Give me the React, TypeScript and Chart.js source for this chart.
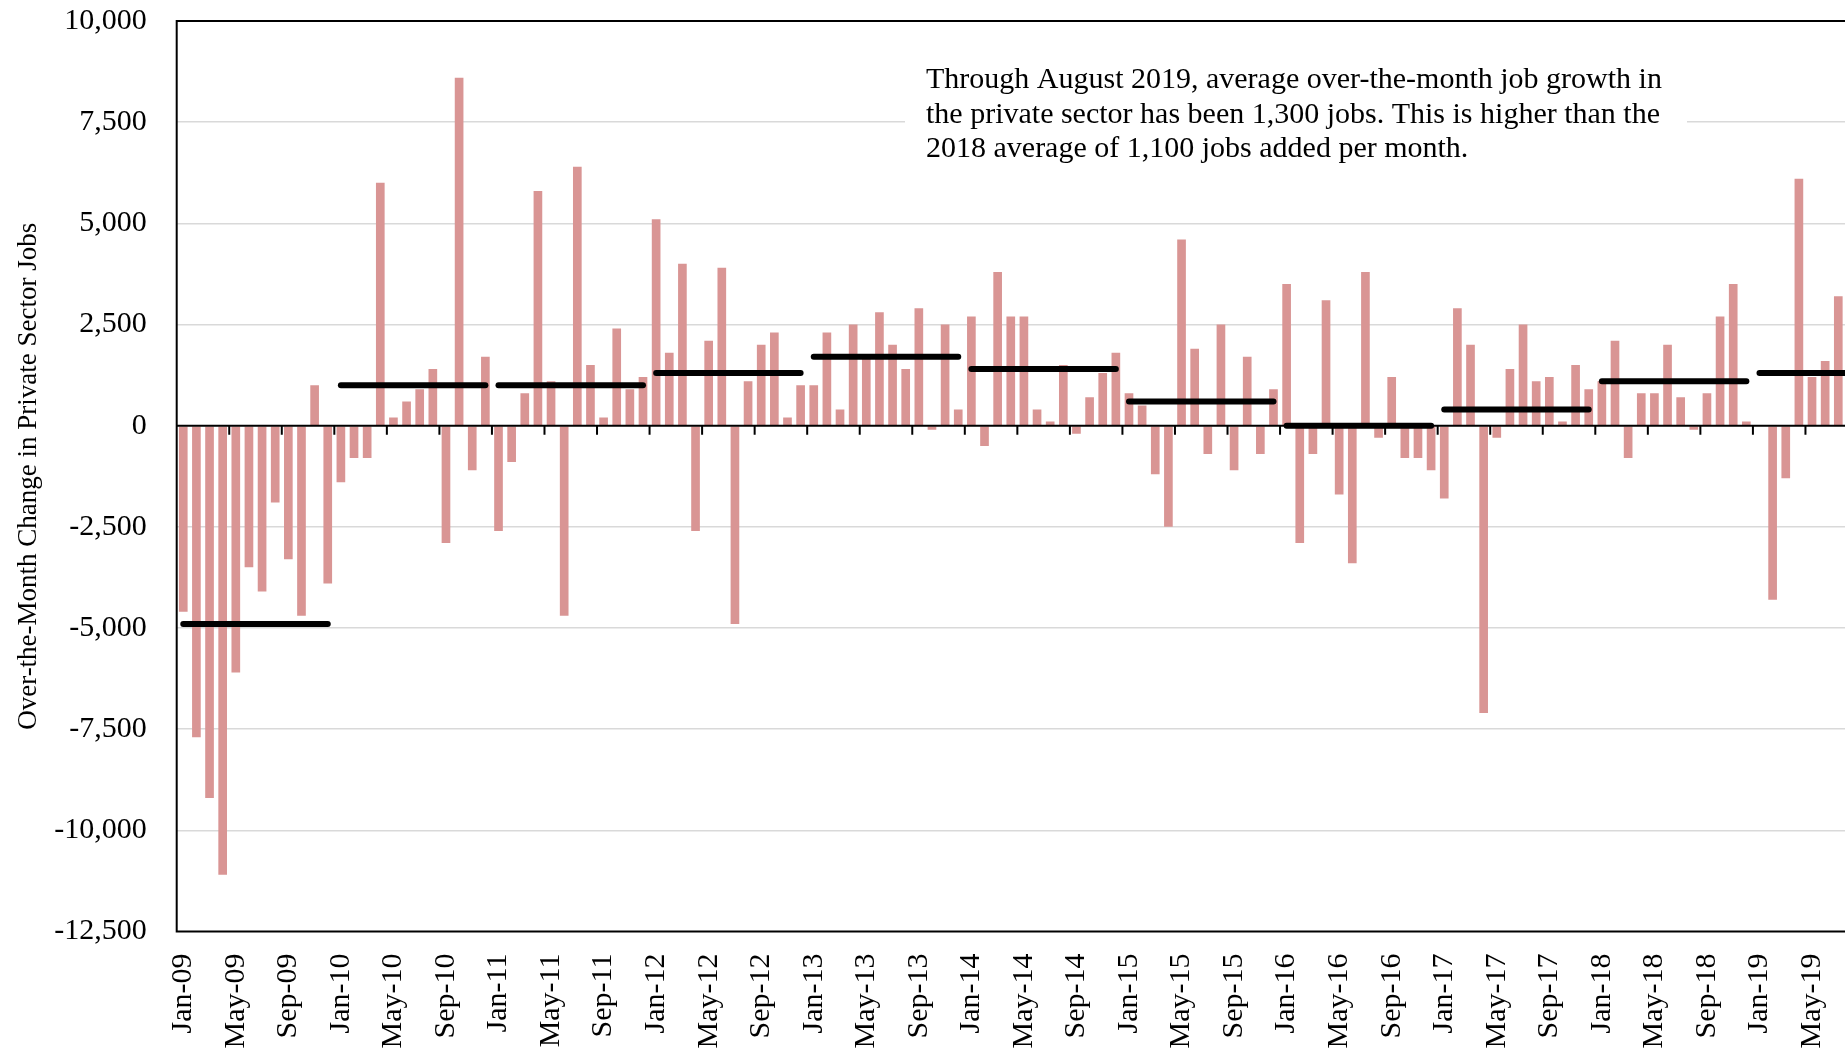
import React, { useEffect, useRef } from 'react';
import { Chart, registerables } from 'chart.js';

Chart.register(...registerables);

// ---- Data ----
const MONTHS = ['Jan', 'Feb', 'Mar', 'Apr', 'May', 'Jun', 'Jul', 'Aug', 'Sep', 'Oct', 'Nov', 'Dec'];
const YEARS = ['09', '10', '11', '12', '13', '14', '15', '16', '17', '18', '19'];

const jobs2009 = [-4600, -7700, -9200, -11100, -6100, -3500, -4100, -1900, -3300, -4700, 1000, -3900];
const jobs2010 = [-1400, -800, -800, 6000, 200, 600, 900, 1400, -2900, 8600, -1100, 1700];
const jobs2011 = [-2600, -900, 800, 5800, 1100, -4700, 6400, 1500, 200, 2400, 900, 1200];
const jobs2012 = [5100, 1800, 4000, -2600, 2100, 3900, -4900, 1100, 2000, 2300, 200, 1000];
const jobs2013 = [1000, 2300, 400, 2500, 1700, 2800, 2000, 1400, 2900, -100, 2500, 400];
const jobs2014 = [2700, -500, 3800, 2700, 2700, 400, 100, 1500, -200, 700, 1300, 1800];
const jobs2015 = [800, 500, -1200, -2500, 4600, 1900, -700, 2500, -1100, 1700, -700, 900];
const jobs2016 = [3500, -2900, -700, 3100, -1700, -3400, 3800, -300, 1200, -800, -800, -1100];
const jobs2017 = [-1800, 2900, 2000, -7100, -300, 1400, 2500, 1100, 1200, 100, 1500, 900];
const jobs2018 = [1100, 2100, -800, 800, 800, 2000, 700, -100, 800, 2700, 3500, 100];
const jobs2019 = [0, -4300, -1300, 6100, 1200, 1600, 3200, 3900];

const JOBS_BY_YEAR = [jobs2009, jobs2010, jobs2011, jobs2012, jobs2013, jobs2014, jobs2015, jobs2016, jobs2017, jobs2018, jobs2019];

// yearly average over-the-month change (black bars)
const YEARLY_AVERAGES = [-4900, 1000, 1000, 1300, 1700, 1400, 600, 0, 400, 1100, 1300];

const Y_MIN = -12500;
const Y_MAX = 10000;
const Y_STEP = 2500;

const Y_TITLE = 'Over-the-Month Change in Private Sector Jobs';
const NOTE_LINES = [
  'Through August 2019, average over-the-month job growth in',
  'the private sector has been 1,300 jobs. This is higher than the',
  '2018 average of 1,100 jobs added per month.',
];

// ---- Derived tables ----
const LABELS: string[] = [];
JOBS_BY_YEAR.forEach((arr, y) => arr.forEach((_, m) => LABELS.push(`${MONTHS[m]}-${YEARS[y]}`)));
const VALUES: number[] = ([] as number[]).concat(...JOBS_BY_YEAR);

const FONT = "'Liberation Serif', 'DejaVu Serif', serif";
const BAR_COLOR = '#D99594';

export default function App() {
  const ref = useRef<HTMLCanvasElement | null>(null);

  useEffect(() => {
    if (!ref.current) return;

    const avgDatasets = YEARLY_AVERAGES.map((avg, y) => {
      const start = JOBS_BY_YEAR.slice(0, y).reduce((s, a) => s + a.length, 0);
      const len = JOBS_BY_YEAR[y].length;
      const data = VALUES.map((_, i) => (i >= start && i < start + len ? avg : null));
      return {
        type: 'line' as const,
        label: `Average 20${YEARS[y]}`,
        data,
        borderColor: '#000',
        borderWidth: 6,
        borderCapStyle: 'round' as const,
        pointRadius: 0,
        spanGaps: false,
        fill: false,
        order: 1,
      };
    });

    const framePlugin = {
      id: 'frame',
      beforeDatasetsDraw(chart: any) {
        const { ctx } = chart;
        ctx.save();
        ctx.fillStyle = '#ffffff';
        ctx.fillRect(905, 48, 782, 120);
        ctx.fillStyle = '#000000';
        ctx.font = `30px ${FONT}`;
        ctx.textBaseline = 'middle';
        ctx.textAlign = 'left';
        NOTE_LINES.forEach((line, i) => ctx.fillText(line, 926, 80 + i * 34.7));
        ctx.restore();
      },
      afterDatasetsDraw(chart: any) {
        const { ctx, chartArea } = chart;
        const xs = chart.scales.x;
        const ys = chart.scales.y;
        const y0 = ys.getPixelForValue(0);
        ctx.save();
        ctx.strokeStyle = '#000';
        ctx.lineWidth = 2;
        // zero axis
        ctx.beginPath();
        ctx.moveTo(chartArea.left, y0);
        ctx.lineTo(chartArea.right, y0);
        ctx.stroke();
        // tick marks every 4 months at category boundaries
        ctx.beginPath();
        for (let i = 4; i < LABELS.length; i += 4) {
          const bx = (xs.getPixelForValue(i - 1) + xs.getPixelForValue(i)) / 2;
          ctx.moveTo(bx, y0);
          ctx.lineTo(bx, y0 + 9);
        }
        ctx.stroke();
        // frame
        ctx.beginPath();
        ctx.moveTo(chartArea.right, chartArea.top);
        ctx.lineTo(chartArea.left, chartArea.top);
        ctx.lineTo(chartArea.left, chartArea.bottom);
        ctx.lineTo(chartArea.right, chartArea.bottom);
        ctx.lineTo(chartArea.right, chartArea.top);
        ctx.stroke();
        ctx.restore();
      },
    };

    const chart = new Chart(ref.current, {
      type: 'bar',
      data: {
        labels: LABELS,
        datasets: [
          {
            type: 'bar',
            label: 'Over-the-month change',
            data: VALUES,
            backgroundColor: BAR_COLOR,
            borderWidth: 0,
            barPercentage: 0.66,
            categoryPercentage: 1,
            order: 2,
          } as any,
          ...(avgDatasets as any[]),
        ],
      },
      options: {
        responsive: false,
        animation: false,
        events: [],
        layout: { padding: { top: 21, right: 20, bottom: 0, left: 0 } },
        plugins: {
          legend: { display: false },
          tooltip: { enabled: false },
        },
        scales: {
          x: {
            type: 'category',
            offset: true,
            grid: { display: false, drawTicks: true, tickLength: 22 },
            border: { display: false },
            ticks: {
              autoSkip: false,
              minRotation: 90,
              maxRotation: 90,
              padding: 0,
              color: '#000',
              font: { family: FONT, size: 30 },
              callback: (_v: any, i: number) => (i % 4 === 0 ? LABELS[i] : null),
            },
            afterFit: (scale: any) => {
              scale.height = 118.5;
            },
          },
          y: {
            min: Y_MIN,
            max: Y_MAX,
            grid: {
              drawTicks: true,
              tickLength: 30,
              tickColor: 'rgba(0,0,0,0)',
              lineWidth: 1.5,
              color: (ctx: any) => {
                const v = ctx.tick ? ctx.tick.value : null;
                if (v === 0 || v === Y_MIN || v === Y_MAX) return 'rgba(0,0,0,0)';
                return '#D9D9D9';
              },
            },
            border: { display: false },
            ticks: {
              stepSize: Y_STEP,
              padding: 0,
              color: '#000',
              font: { family: FONT, size: 30 },
              callback: (v: any) => Number(v).toLocaleString('en-US'),
            },
            title: {
              display: true,
              text: Y_TITLE,
              color: '#000',
              font: { family: FONT, size: 27, weight: 'normal' },
              padding: { top: 13, bottom: 0 },
            },
            afterFit: (scale: any) => {
              scale.width = 176.7;
            },
          },
        },
      },
      plugins: [framePlugin],
    });

    return () => chart.destroy();
  }, []);

  return (
    <div
      style={{
        position: 'fixed',
        left: 0,
        top: 0,
        width: '100vw',
        height: '100vh',
        overflow: 'hidden',
        background: '#fff',
      }}
    >
      <canvas ref={ref} width={1878} height={1050} style={{ display: 'block', width: 1878, height: 1050 }} />
    </div>
  );
}
